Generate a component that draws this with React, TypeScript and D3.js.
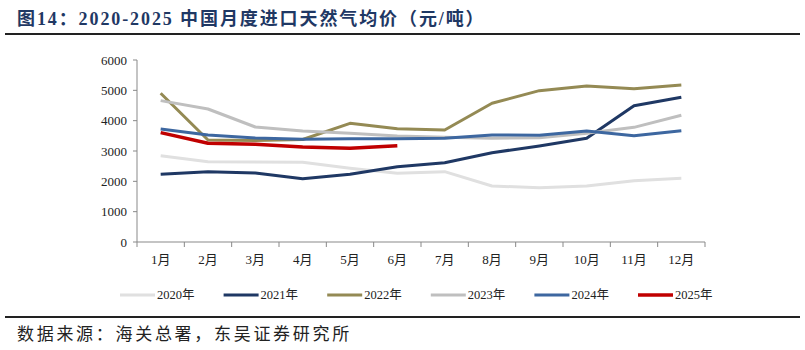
import React from "react";
import * as d3 from "d3";

const months = ["1月", "2月", "3月", "4月", "5月", "6月", "7月", "8月", "9月", "10月", "11月", "12月"];
const yTicks = [0, 1000, 2000, 3000, 4000, 5000, 6000];

const y2020 = [2845, 2648, 2640, 2628, 2430, 2265, 2318, 1846, 1790, 1846, 2021, 2100];
const y2021 = [2232, 2318, 2275, 2088, 2232, 2483, 2615, 2945, 3165, 3418, 4494, 4770];
const y2022 = [4902, 3363, 3350, 3380, 3913, 3737, 3693, 4573, 4990, 5143, 5055, 5176];
const y2023 = [4660, 4385, 3792, 3660, 3584, 3495, 3452, 3418, 3440, 3584, 3780, 4177];
const y2024 = [3726, 3528, 3429, 3385, 3407, 3407, 3418, 3528, 3517, 3660, 3506, 3670];
const y2025 = [3605, 3254, 3220, 3132, 3088, 3176];

const seriesNames = ["2020年", "2021年", "2022年", "2023年", "2024年", "2025年"];
const seriesData = [y2020, y2021, y2022, y2023, y2024, y2025];
const colors = ["#e0e0e0", "#1f3864", "#948a54", "#bfbfbf", "#3d67a0", "#c00000"];
const widths = [3, 3, 3, 3, 3, 3.5];

const serif = "'Liberation Serif', 'Times New Roman', 'Noto Sans CJK SC', serif";

export default function App() {
  const W = 805;
  const H = 350;
  const x = d3.scaleBand<string>().domain(months).range([137, 705]);
  const y = d3.scaleLinear().domain([0, 6000]).range([242, 60]);
  const line = d3
    .line<number>()
    .x((_, i) => (x(months[i]) as number) + x.bandwidth() / 2)
    .y((d) => y(d));

  const boundaries = months.map((m) => x(m) as number).concat([705]);

  return (
    <svg
      width={W}
      height={H}
      style={{ position: "absolute", left: 0, top: 0, background: "#fff" }}
      fontFamily={serif}
    >
      <text x={17} y={25} fontSize={18} fontWeight="bold" fill="#1f3864" letterSpacing={1.9}>
        图14：2020-2025 中国月度进口天然气均价（元/吨）
      </text>
      <line x1={5} x2={800} y1={34} y2={34} stroke="#222" strokeWidth={2} />

      {/* y axis */}
      <line x1={137} x2={137} y1={60} y2={242} stroke="#898989" />
      {yTicks.map((t) => (
        <g key={t}>
          <line x1={133} x2={137} y1={y(t)} y2={y(t)} stroke="#898989" />
          <text x={127} y={y(t)} dy="0.35em" textAnchor="end" fontSize={13} fill="#222">
            {t}
          </text>
        </g>
      ))}

      {/* x axis */}
      <line x1={137} x2={705} y1={242} y2={242} stroke="#898989" />
      {boundaries.map((b, i) => (
        <line key={i} x1={b} x2={b} y1={242} y2={247} stroke="#898989" />
      ))}
      {months.map((m) => (
        <text
          key={m}
          x={(x(m) as number) + x.bandwidth() / 2}
          y={259}
          dy="0.35em"
          textAnchor="middle"
          fontSize={13}
          fill="#222"
        >
          {m}
        </text>
      ))}

      {seriesData.map((s, i) => (
        <path
          key={i}
          d={line(s) || ""}
          fill="none"
          stroke={colors[i]}
          strokeWidth={widths[i]}
          strokeLinejoin="round"
        />
      ))}

      {/* legend */}
      {seriesNames.map((n, i) => {
        const lx = 120 + i * 103.6;
        return (
          <g key={n}>
            <line x1={lx} x2={lx + 35} y1={295} y2={295} stroke={colors[i]} strokeWidth={widths[i]} />
            <text x={lx + 37} y={295} dy="0.35em" fontSize={12.5} fill="#222">
              {n}
            </text>
          </g>
        );
      })}

      <line x1={5} x2={800} y1={317} y2={317} stroke="#222" strokeWidth={2} />
      <text
        x={17}
        y={340}
        fontSize={17}
        fill="#222"
        letterSpacing={2.7}
        fontFamily="'Noto Sans CJK SC', sans-serif"
      >
        数据来源：海关总署，东吴证券研究所
      </text>
    </svg>
  );
}
